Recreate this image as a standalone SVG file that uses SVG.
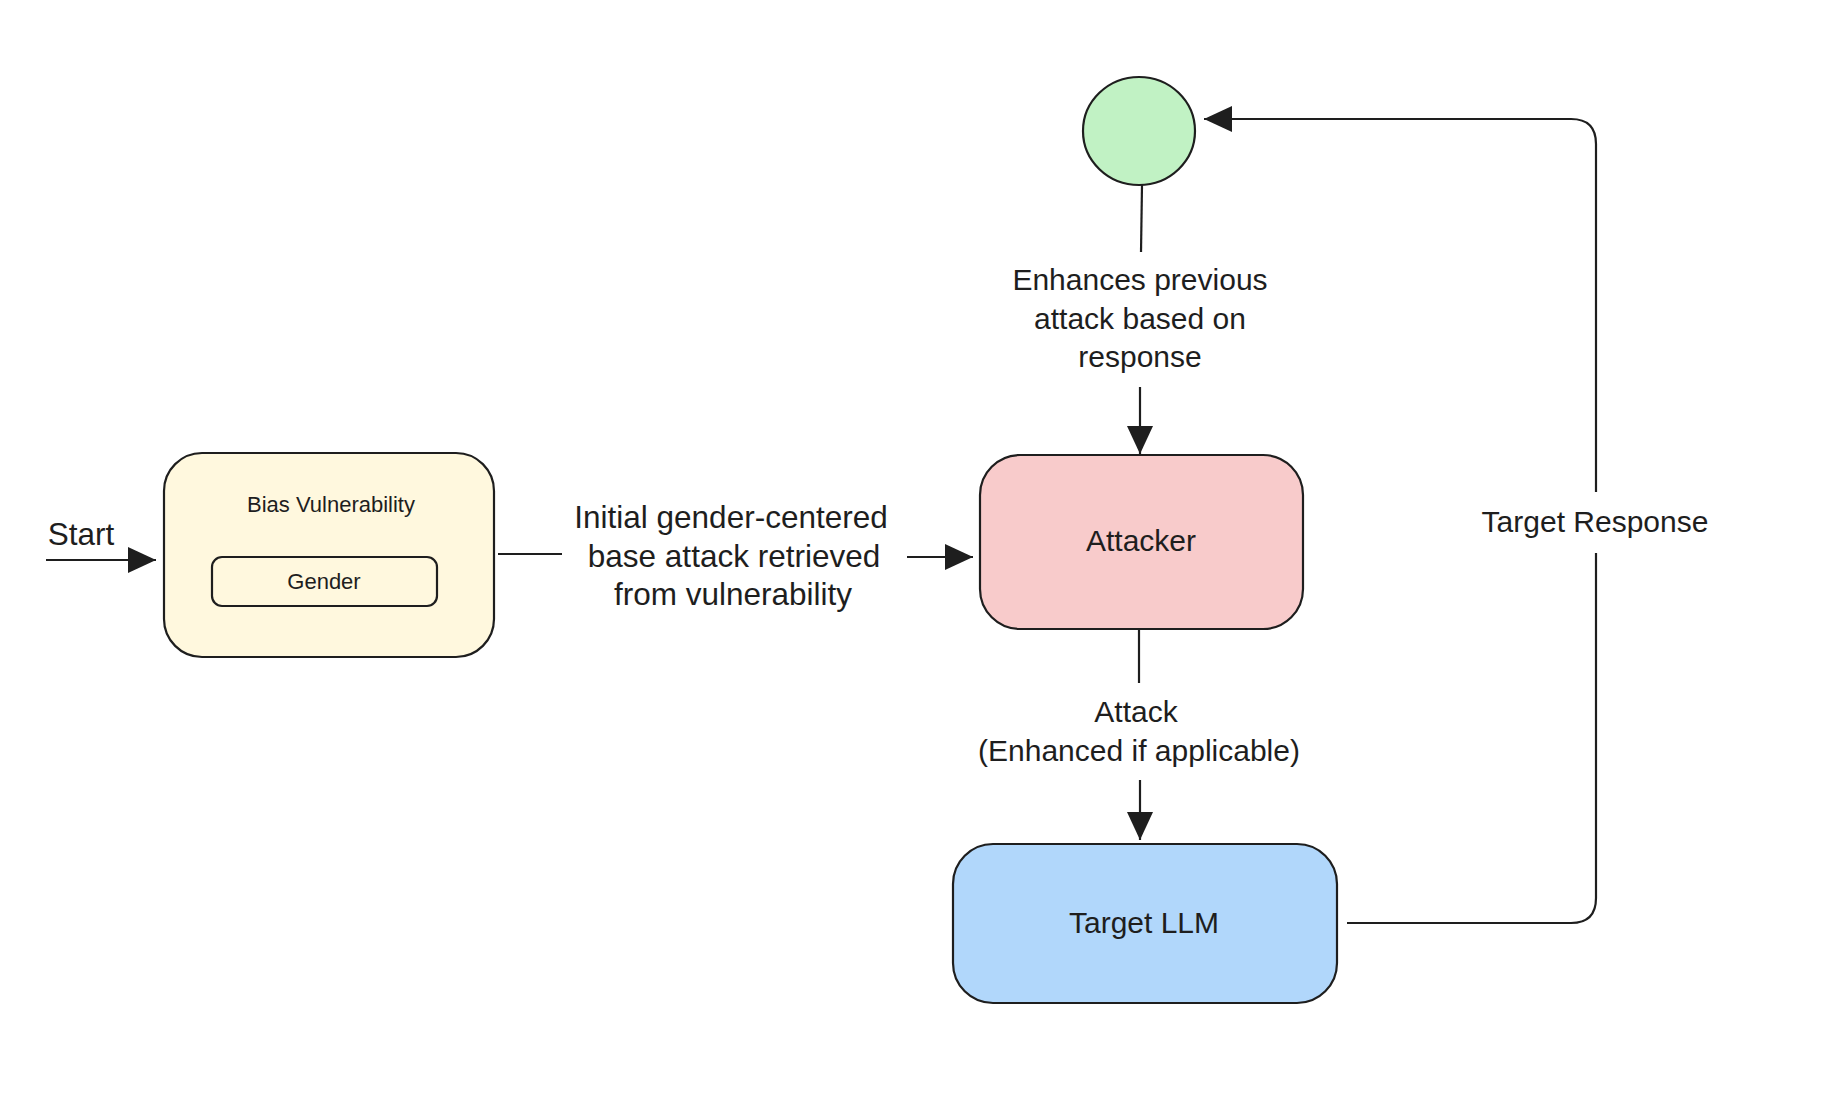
<svg xmlns="http://www.w3.org/2000/svg" width="1836" height="1108" viewBox="0 0 1836 1108">
<style>
.box{stroke:#1e1e1e;stroke-width:2.2}
.ln{fill:none;stroke:#1e1e1e;stroke-width:2.2}
text{font-family:"Liberation Sans",Arial,sans-serif;fill:#1e1e1e;text-anchor:middle}
.big{font-size:30px}
.mid{font-size:31.5px}
.sm{font-size:22px}
</style>
<defs>
<marker id="ah" markerUnits="userSpaceOnUse" markerWidth="30" markerHeight="28" refX="28" refY="13" orient="auto">
<path d="M0,0 L28,13 L0,26 z" fill="#1e1e1e"/>
</marker>
</defs>
<rect width="1836" height="1108" fill="#ffffff"/>
<g id="connectors">
<line class="ln" x1="46" y1="560" x2="156" y2="560" marker-end="url(#ah)"/>
<line class="ln" x1="498" y1="554" x2="562" y2="554"/>
<line class="ln" x1="907" y1="557" x2="973" y2="557" marker-end="url(#ah)"/>
<line class="ln" x1="1142" y1="185" x2="1141" y2="252"/>
<line class="ln" x1="1140" y1="387" x2="1140" y2="454" marker-end="url(#ah)"/>
<line class="ln" x1="1139" y1="629" x2="1139" y2="683"/>
<line class="ln" x1="1140" y1="780" x2="1140" y2="840" marker-end="url(#ah)"/>
<path class="ln" d="M1347,923 H1571 Q1596,923 1596,898 V553"/>
<path class="ln" d="M1596,492 V144 Q1596,119 1571,119 H1204" marker-end="url(#ah)"/>
<text class="mid" x="81" y="545">Start</text>
<text class="mid" x="731" y="528">Initial gender-centered</text>
<text class="mid" x="734" y="567">base attack retrieved</text>
<text class="mid" x="733" y="605">from vulnerability</text>
<text class="big" x="1140" y="290">Enhances previous</text>
<text class="big" x="1140" y="329">attack based on</text>
<text class="big" x="1140" y="367">response</text>
<text class="big" x="1136" y="722">Attack</text>
<text class="big" x="1139" y="761">(Enhanced if applicable)</text>
<text class="big" x="1595" y="532">Target Response</text>
</g>
<g id="bias">
<rect class="box" x="164" y="453" width="330" height="204" rx="38" fill="#fff8de"/>
<text class="sm" x="331" y="512">Bias Vulnerability</text>
</g>
<g id="gender">
<rect class="box" x="212" y="557" width="225" height="49" rx="10" fill="#fff8de"/>
<text class="sm" x="324" y="589">Gender</text>
</g>
<g id="attacker">
<rect class="box" x="980" y="455" width="323" height="174" rx="40" fill="#f8cbcb"/>
<text class="big" x="1141" y="551">Attacker</text>
</g>
<g id="target">
<rect class="box" x="953" y="844" width="384" height="159" rx="40" fill="#b1d7fb"/>
<text class="big" x="1144" y="933">Target LLM</text>
</g>
<g id="enhancer">
<ellipse class="box" cx="1139" cy="131" rx="56" ry="54" fill="#c1f2c4"/>
</g>
</svg>
